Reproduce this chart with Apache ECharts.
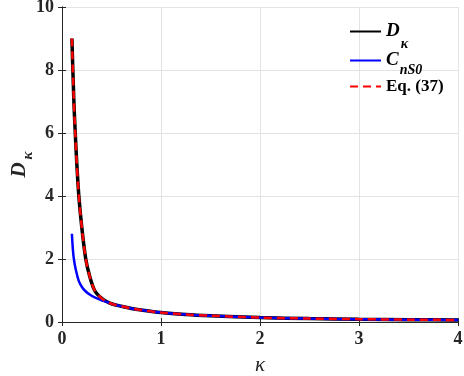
<!DOCTYPE html>
<html>
<head>
<meta charset="utf-8">
<script src="https://cdn.jsdelivr.net/npm/echarts@6/dist/echarts.min.js"></script>
<style>
  html, body { margin: 0; padding: 0; background: #fff; }
  #chart { width: 464px; height: 376px; }
</style>
</head>
<body>
<div id="chart"></div>
<script>
// kappa values and curves
var kappa = [0.10, 0.12, 0.134, 0.15, 0.17, 0.20, 0.24, 0.28, 0.33, 0.40, 0.45, 0.5, 0.6, 0.7, 0.8, 1.0, 1.25, 1.5, 2.0, 2.5, 3.0, 3.5, 4.0];
var dKappa = [9.0, 7.0, 6.0, 5.0, 4.0, 3.0, 2.0, 1.45, 1.0, 0.75, 0.65, 0.58, 0.5, 0.43, 0.38, 0.3, 0.24, 0.2, 0.14, 0.11, 0.09, 0.075, 0.065];
var eq37 = [9.0, 7.0, 6.0, 5.0, 4.0, 3.0, 2.0, 1.45, 1.0, 0.75, 0.65, 0.58, 0.5, 0.43, 0.38, 0.3, 0.24, 0.2, 0.14, 0.11, 0.09, 0.075, 0.065];
var cKappa = [0.10, 0.11, 0.12, 0.14, 0.17, 0.20, 0.23, 0.28, 0.33, 0.40, 0.45, 0.5, 0.6, 0.7, 0.8, 1.0, 1.25, 1.5, 2.0, 2.5, 3.0, 3.5, 4.0];
var cnS0 = [2.8, 2.3, 2.0, 1.65, 1.3, 1.12, 1.0, 0.87, 0.78, 0.69, 0.64, 0.58, 0.5, 0.43, 0.38, 0.3, 0.24, 0.2, 0.14, 0.11, 0.09, 0.075, 0.065];
var xTicks = [0, 1, 2, 3, 4];
var yTicks = [0, 2, 4, 6, 8, 10];

function pairs(xs, ys) {
  return xs.map(function (x, i) { return [x, ys[i]]; });
}

var font = 'Liberation Serif';
var axisColor = '#262626';

var chart = echarts.init(document.getElementById('chart'));

function legendAt(top, name, fmt, subPad) {
  return {
    data: [name],
    left: 349,
    top: top,
    orient: 'vertical',
    itemWidth: 31,
    itemHeight: 10,
    itemGap: 0,
    padding: 0,
    itemStyle: { opacity: 0 },
    formatter: fmt,
    textStyle: {
      fontFamily: font, fontWeight: 'bold', fontSize: 17, color: '#000',
      rich: {
        m: { fontFamily: font, fontWeight: 'bold', fontStyle: 'italic', fontSize: 19, color: '#000' },
        s: { fontFamily: font, fontWeight: 'bold', fontStyle: 'italic', fontSize: 14, color: '#000', padding: [subPad, 0, 0, 1] }
      }
    }
  };
}

chart.setOption({
  animation: false,
  grid: { left: 62, right: 6, top: 7, bottom: 54, outerBoundsMode: 'none' },
  legend: [
    legendAt(22, 'D', function () { return '{m|D}{s|κ}'; }, 26),
    legendAt(51, 'C', function () { return '{m|C}{s|nS0}'; }, 20),
    legendAt(78, 'Eq. (37)', function (n) { return n; }, 0)
  ],
  xAxis: [{
    type: 'value', min: 0, max: 4, interval: 1,
    name: 'κ', nameLocation: 'middle', nameGap: 33,
    nameTextStyle: { fontFamily: font, fontStyle: 'italic', fontSize: 21, color: axisColor },
    axisLine: { lineStyle: { color: axisColor, width: 1 } },
    axisTick: { inside: true, length: 4, lineStyle: { color: axisColor } },
    axisLabel: { fontFamily: font, fontWeight: 'bold', fontSize: 18, color: axisColor, margin: 8,
      formatter: function (v) { return xTicks.indexOf(v) >= 0 ? String(v) : ''; } },
    splitLine: { lineStyle: { color: '#e3e3e3' } }
  }, {
    type: 'value', min: 0, max: 4, interval: 1, position: 'top',
    axisLine: { lineStyle: { color: axisColor } },
    axisTick: { inside: true, length: 4, lineStyle: { color: axisColor } },
    axisLabel: { show: false }, splitLine: { show: false }
  }],
  yAxis: [{
    type: 'value', min: 0, max: 10, interval: 2,
    axisLine: { show: true, lineStyle: { color: axisColor, width: 1 } },
    axisTick: { show: true, inside: true, length: 4, lineStyle: { color: axisColor } },
    axisLabel: { fontFamily: font, fontWeight: 'bold', fontSize: 18, color: axisColor, margin: 8,
      formatter: function (v) { return yTicks.indexOf(v) >= 0 ? String(v) : ''; } },
    splitLine: { lineStyle: { color: '#e3e3e3' } }
  }, {
    type: 'value', min: 0, max: 10, interval: 2, position: 'right',
    axisLine: { show: true, lineStyle: { color: axisColor } },
    axisTick: { show: true, inside: true, length: 4, lineStyle: { color: axisColor } },
    axisLabel: { show: false }, splitLine: { show: false }
  }, {
    // carries only the axis title, so it is not pushed away by the tick labels
    type: 'value', min: 0, max: 10, interval: 2, position: 'left',
    axisLine: { show: false }, axisTick: { show: false },
    axisLabel: { show: false }, splitLine: { show: false },
    name: '{m|D}{s|κ}', nameLocation: 'middle', nameGap: 26, nameRotate: 90,
    nameTextStyle: {
      rich: {
        m: { fontFamily: font, fontWeight: 'bold', fontStyle: 'italic', fontSize: 21, color: axisColor },
        s: { fontFamily: font, fontWeight: 'bold', fontStyle: 'italic', fontSize: 15, color: axisColor, padding: [18, 0, 0, 3] }
      }
    }
  }],
  series: [{
    name: 'D', type: 'line', symbol: 'none', smooth: 0.3,
    color: '#000', lineStyle: { color: '#000', width: 3.5 },
    data: pairs(kappa, dKappa)
  }, {
    name: 'C', type: 'line', symbol: 'none', smooth: 0.3,
    color: '#0000ff', lineStyle: { color: '#0000ff', width: 2.5 },
    data: pairs(cKappa, cnS0)
  }, {
    name: 'Eq. (37)', type: 'line', symbol: 'none', smooth: 0.3,
    color: '#ff0000', lineStyle: { color: '#ff0000', width: 2.5, type: [8, 5] },
    data: pairs(kappa, eq37)
  }]
});
</script>
</body>
</html>
